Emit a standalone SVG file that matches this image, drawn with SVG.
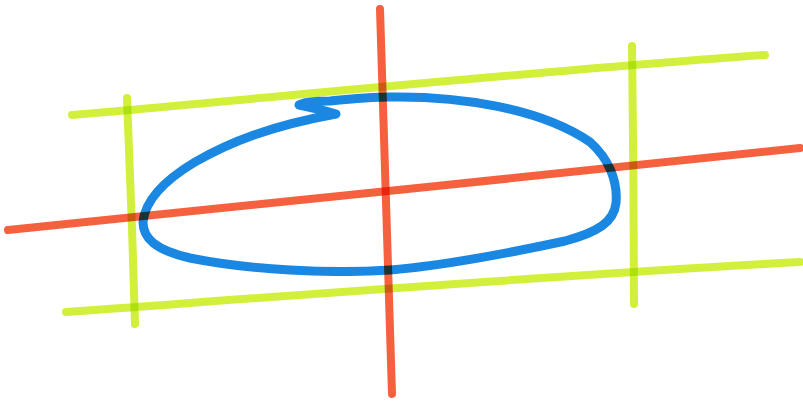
<svg xmlns="http://www.w3.org/2000/svg" width="803" height="403" viewBox="0 0 803 403">
<style>
.y{fill:none;stroke:#d2ef3c;stroke-width:8;stroke-linecap:round;mix-blend-mode:multiply}
.r{fill:none;stroke:#f5603e;stroke-width:8;stroke-linecap:round;mix-blend-mode:multiply}
.b{fill:none;stroke:#1a88e2;stroke-width:9;stroke-linecap:round;stroke-linejoin:round;mix-blend-mode:multiply}
</style>
<rect width="803" height="403" fill="#fff"/>
<g id="box">
<path class="y" d="M72,115 C300,95 550,70 765,55"/>
<path class="y" d="M66,312 C300,295 560,275 800,262"/>
<path class="y" d="M127,98 C130,170 133,250 135,324"/>
<path class="y" d="M632,46 C633,130 634,220 634,304"/>
</g>
<g id="axes">
<path class="r" d="M8,230 C250,205 550,175 800,148"/>
<path class="r" d="M380,9 C384,140 388,270 392,394"/>
</g>
<g id="ellipse">
<path class="b" d="M336,114 Q315,108 299,105 Q305,101 330,101 C350,99 370,97 390,97 C460,96 540,108 590,142 C608,158 618,180 616,203 C614,222 598,232 565,241 C500,255 440,266 390,270 C330,274 250,270 190,258 C155,250 143,238 143,222 C145,200 165,180 195,162 C230,142 270,126 336,114"/>
</g>
</svg>
